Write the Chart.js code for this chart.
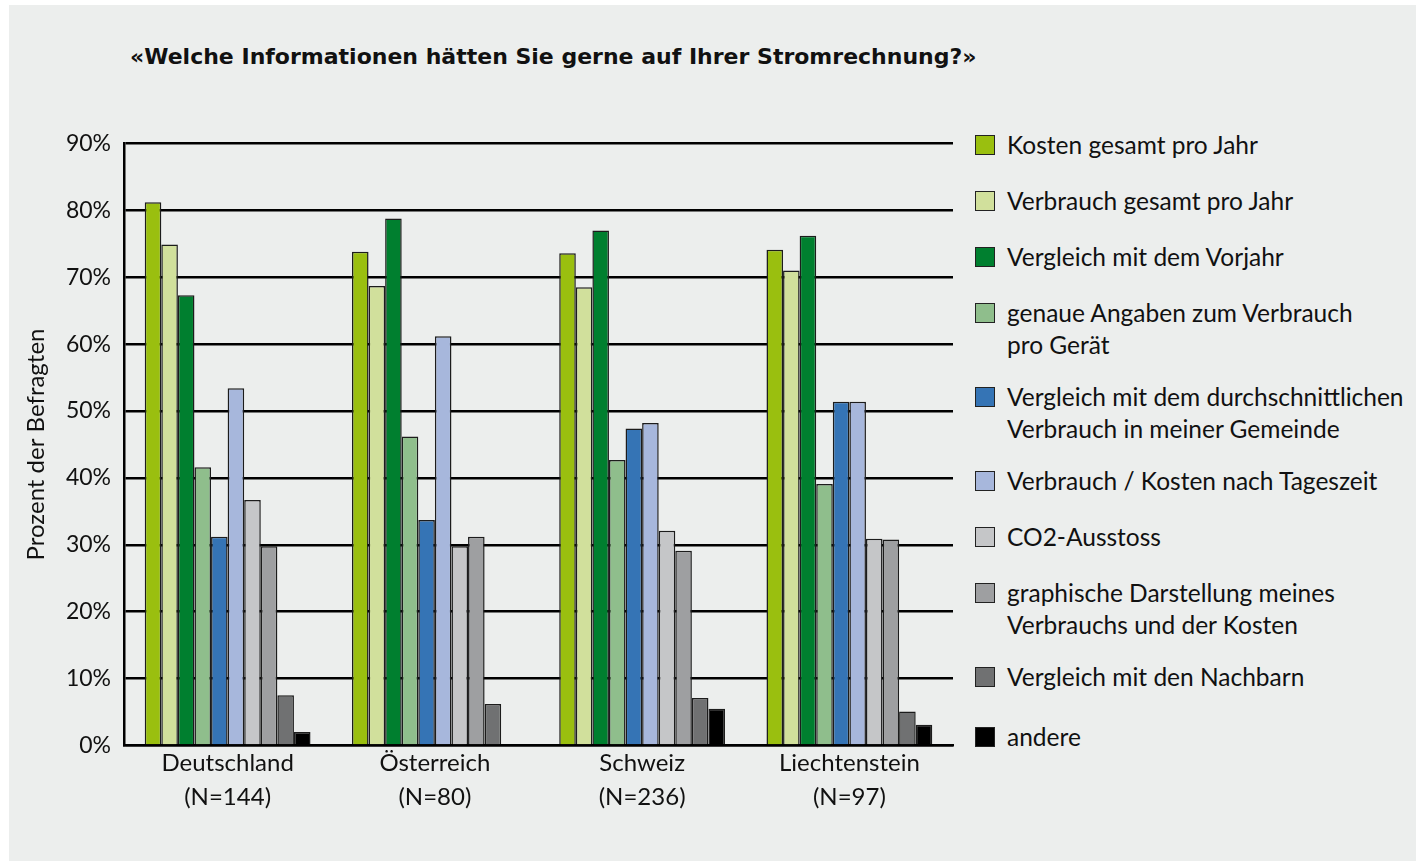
<!DOCTYPE html>
<html lang="de">
<head>
<meta charset="utf-8">
<title>Stromrechnung</title>
<script src="https://cdn.jsdelivr.net/npm/chart.js@4.4.1/dist/chart.umd.min.js"></script>
<style>
    html, body { margin: 0; padding: 0; background: #fff; }
    body { width: 1426px; height: 861px; position: relative; overflow: hidden; font-family: Lato, sans-serif; }
    #panel { position: absolute; left: 9px; top: 5px; width: 1407px; height: 856px; background: #eceeed; }
    #title { position: absolute; left: 130px; top: 44px; font-family: "DejaVu Sans", sans-serif; font-size: 22px; font-weight: bold; color: #111; white-space: nowrap; }
    #chartBox { position: absolute; left: 0; top: 0; width: 960px; height: 861px; }
    #legend { position: absolute; left: 975px; top: 129px; color: #111; font-size: 24.5px; }
    .item { display: flex; align-items: flex-start; margin-bottom: 24px; line-height: 32px; }
    .item.two { margin-bottom: 20px; }
    .item:nth-last-child(2) { margin-bottom: 28px; }
    .swatch { width: 18px; height: 18px; border: 1px solid #222; margin: 6px 12px 0 0; flex: none; }
</style>
</head>
<body>
<div id="panel"></div>
<div id="title">«Welche Informationen hätten Sie gerne auf Ihrer Stromrechnung?»</div>
<div id="chartBox"><canvas id="chart"></canvas></div>
<div id="legend"></div>

<script>
// countries and sample sizes
const countries = ['Deutschland', 'Österreich', 'Schweiz', 'Liechtenstein'];
const sampleSizes = ['(N=144)', '(N=80)', '(N=236)', '(N=97)'];
const yTicks = [0, 10, 20, 30, 40, 50, 60, 70, 80, 90];

// percent of respondents, one value per country
const kostenJahr      = [81.2, 73.8, 73.6, 74.1];
const verbrauchJahr   = [74.9, 68.7, 68.5, 71.0];
const vorjahr         = [67.3, 78.8, 77.0, 76.2];
const proGeraet       = [41.6, 46.2, 42.7, 39.1];
const gemeinde        = [31.2, 33.7, 47.4, 51.4];
const tageszeit       = [53.4, 61.2, 48.2, 51.4];
const co2             = [36.7, 29.8, 32.1, 30.9];
const grafik          = [29.8, 31.2, 29.1, 30.8];
const nachbarn        = [7.5, 6.2, 7.1, 5.1];
const andere          = [2.0, 0, 5.5, 3.1];

const seriesNames = [
    'Kosten gesamt pro Jahr',
    'Verbrauch gesamt pro Jahr',
    'Vergleich mit dem Vorjahr',
    'genaue Angaben zum Verbrauch\npro Gerät',
    'Vergleich mit dem durchschnittlichen\nVerbrauch in meiner Gemeinde',
    'Verbrauch / Kosten nach Tageszeit',
    'CO2-Ausstoss',
    'graphische Darstellung meines\nVerbrauchs und der Kosten',
    'Vergleich mit den Nachbarn',
    'andere'
];
const seriesValues = [kostenJahr, verbrauchJahr, vorjahr, proGeraet, gemeinde, tageszeit, co2, grafik, nachbarn, andere];
const colors = ['#9abf0f', '#d1e09c', '#007f2f', '#8fbe8c', '#3574b5', '#a7b7dc', '#c5c6c8', '#9e9fa1', '#707172', '#000000'];

const datasets = seriesValues.map((vals, i) => ({
    label: seriesNames[i],
    data: vals,
    backgroundColor: colors[i],
    borderColor: '#1c1c1c',
    borderWidth: 1.5,
    categoryPercentage: 0.8,
    barPercentage: 1.0
}));

const chart = new Chart(document.getElementById('chart'), {
    type: 'bar',
    data: {
        labels: countries.map((c, i) => [c, sampleSizes[i]]),
        datasets: datasets
    },
    options: {
        responsive: true,
        maintainAspectRatio: false,
        animation: false,
        layout: { padding: { top: 143.5, left: 0, right: 7, bottom: 0 } },
        plugins: {
            legend: { display: false },
            tooltip: { enabled: false }
        },
        scales: {
            x: {
                grid: { display: false },
                border: { display: true, color: '#000', width: 2.5 },
                ticks: {
                    color: '#111',
                    font: { family: 'Lato', size: 24, lineHeight: 1.42 },
                    padding: -7,
                    maxRotation: 0
                },
                afterFit: (scale) => { scale.height = 115.5; }
            },
            y: {
                min: 0,
                max: 90,
                afterBuildTicks: (scale) => { scale.ticks = yTicks.map(v => ({ value: v })); },
                grid: { color: '#000', lineWidth: 2.5, drawTicks: false },
                border: { display: true, color: '#000', width: 2.5 },
                ticks: {
                    color: '#111',
                    padding: 13,
                    font: { family: 'Lato', size: 23 },
                    callback: (v) => v + '%'
                },
                title: {
                    display: true,
                    text: 'Prozent der Befragten',
                    color: '#111',
                    font: { family: 'Lato', size: 24 },
                    padding: { top: 22, bottom: 0 }
                },
                afterFit: (scale) => { scale.width = 124; }
            }
        }
    }
});

// html legend built from the chart's datasets
const legendEl = document.getElementById('legend');
legendEl.innerHTML = chart.data.datasets.map(ds => {
    const lines = ds.label.split('\n');
    return `
    <div class="item${lines.length > 1 ? ' two' : ''}">
        <div class="swatch" style="background:${ds.backgroundColor}"></div>
        <div>${lines.join('<br>')}</div>
    </div>`;
}).join('');
</script>
</body>
</html>
